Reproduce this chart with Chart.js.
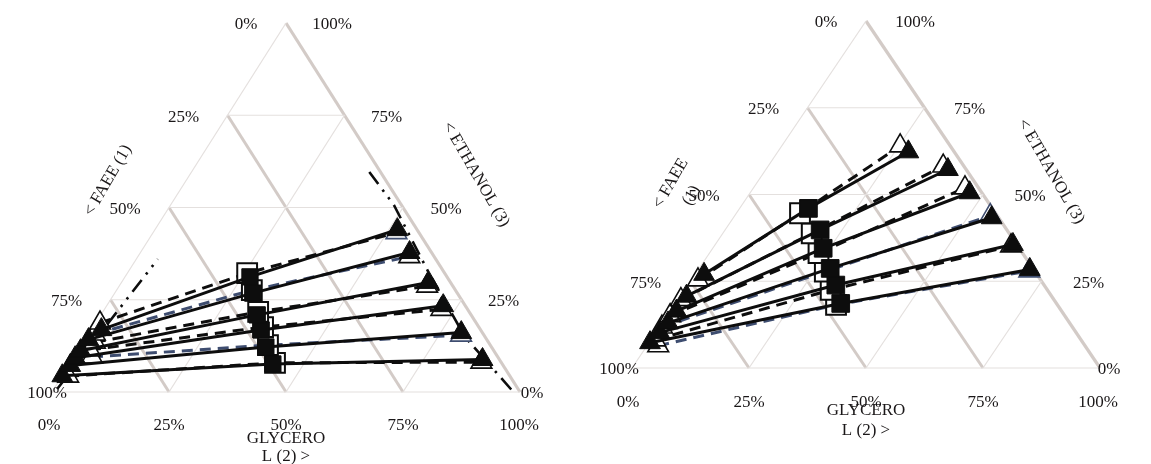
<!DOCTYPE html>
<html>
<head>
<meta charset="utf-8">
<script src="https://cdn.jsdelivr.net/npm/chart.js@4.4.1/dist/chart.umd.min.js"></script>
<style>
html,body{margin:0;padding:0;background:#fff;width:1151px;height:464px;overflow:hidden;}
.wrap{position:absolute;top:0;height:464px;}
#wL{left:0;width:576px;}
#wR{left:576px;width:575px;}
</style>
</head>
<body>
<div class="wrap" id="wL"><canvas id="cL" width="576" height="464"></canvas></div>
<div class="wrap" id="wR"><canvas id="cR" width="575" height="464"></canvas></div>
<script>
// ---------------- DATA (mass %, glycerol & ethanol; FAEE = 100 - G - E) ----------------
const tickPct = [0, 25, 50, 75, 100];
const tickLabels = ['0%', '25%', '50%', '75%', '100%'];
const gridSteps = [25, 50, 75];
const axisFaee = '< FAEE (1)';
const axisGly1 = 'GLYCERO';
const axisGly2 = 'L (2) >';
const axisEth = '< ETHANOL (3)';

// Left diagram
const L_expFaeeRichG = [2.1, 0.7, 0.5, 0.3, 0.3, 0.0];
const L_expFaeeRichE = [16.9, 14.2, 11.2, 9.3, 7.2, 4.4];
const L_feedG = [26.7, 29.5, 33.4, 36.3, 39.6, 43.4];
const L_feedE = [31.2, 26.8, 20.9, 16.8, 12.2, 7.6];
const L_expGlyRichG = [51.8, 57.5, 65.6, 71.9, 79.4, 87.6];
const L_expGlyRichE = [44.0, 37.8, 29.7, 23.4, 16.1, 8.8];
const L_calFaeeRichG = [0.9, 1.3, 2.4, 2.4, 3.8, 1.3];
const L_calFaeeRichE = [18.7, 15.7, 13.5, 11.4, 9.5, 4.3];
const L_calFeedG = [25.6, 28.9, 33.2, 36.3, 39.8, 43.7];
const L_calFeedE = [32.2, 27.6, 21.7, 17.6, 12.7, 7.9];
const L_calGlyRichG = [52.0, 58.0, 65.8, 72.0, 79.7, 87.7];
const L_calGlyRichE = [43.2, 36.7, 28.7, 22.4, 15.4, 8.1];
const L_binodalFaeeG = [0.7, 4.6];
const L_binodalFaeeE = [0.8, 36.0];
const L_binodalGlyG = [38.0, 47.7, 63.9, 80.8, 98.0];
const L_binodalGlyE = [59.6, 50.7, 32.8, 14.9, 0.5];

// Right diagram
const R_expFaeeRichG = [1.9, 1.3, 1.3, 1.2, 0.8, 0.2];
const R_expFaeeRichE = [27.0, 20.7, 16.4, 13.0, 10.2, 7.3];
const R_feedG = [14.7, 20.3, 23.6, 28.0, 31.6, 35.3];
const R_feedE = [46.0, 39.8, 34.5, 28.7, 23.9, 18.6];
const R_expGlyRichG = [27.9, 38.9, 46.9, 55.2, 63.6, 70.8];
const R_expGlyRichE = [62.3, 57.2, 50.5, 43.3, 35.6, 28.4];
const R_calFaeeRichG = [1.4, 0.6, 0.6, 0.5, 0.9, 2.4];
const R_calFaeeRichE = [25.4, 19.7, 15.1, 11.8, 8.1, 6.4];
const R_calFeedG = [13.6, 19.0, 23.3, 27.3, 31.2, 34.5];
const R_calFeedE = [44.6, 38.8, 33.1, 27.8, 22.5, 18.2];
const R_calGlyRichG = [25.3, 37.4, 45.2, 54.6, 63.4, 70.9];
const R_calGlyRichE = [64.0, 58.2, 51.9, 43.9, 35.2, 28.0];

// ---------------- STYLE ----------------
const BLACK = '#0d0d0d';
const BLUE = '#3e4d70';
const THIN = '#e4e0de';
const THICK = '#d3cbc7';
const TEXT = '#1a1718';
const FONT = '17px "Liberation Serif", "Times New Roman", serif';

function pt(g, e) { return { x: (g + e / 2) / 100, y: e / 100 }; }

function gridDatasets() {
  const ds = [];
  const add = (a, b, color, w) => ds.push({
    data: [a, b], showLine: true, pointRadius: 0, borderColor: color, borderWidth: w,
    order: 100, clip: false
  });
  add(pt(0, 0), pt(0, 100), THIN, 1.2);
  add(pt(0, 0), pt(100, 0), THIN, 1.2);
  gridSteps.forEach(t => {
    add(pt(0, t), pt(100 - t, t), THIN, 1.2);
    add(pt(t, 0), pt(t, 100 - t), THIN, 1.2);
  });
  gridSteps.forEach(t => add(pt(0, 100 - t), pt(100 - t, 0), THICK, 3));
  add(pt(100, 0), pt(0, 100), THICK, 3.2);
  return ds;
}

function buildSet(cfg) {
  const ds = [];
  const n = cfg.expLG.length;
  for (let i = 0; i < n; i++) {
    // calculated tie line: FAEE-rich phase -> global composition -> glycerol-rich phase
    ds.push({
      data: [pt(cfg.calLG[i], cfg.calLE[i]), pt(cfg.calFG[i], cfg.calFE[i]), pt(cfg.calRG[i], cfg.calRE[i])],
      showLine: true, borderColor: cfg.calLineColors[i], borderWidth: 3, borderDash: [11, 7],
      pointStyle: ['triangle', 'rect', 'triangle'],
      pointRadius: [cfg.triR, cfg.openSqR, cfg.triR],
      pointBackgroundColor: '#ffffff',
      pointBorderColor: [BLACK, BLACK, cfg.calTriColors[i]],
      pointBorderWidth: [1.6, 2, 1.6],
      order: 6, clip: false
    });
  }
  for (let i = 0; i < n; i++) {
    ds.push({
      data: [pt(cfg.expLG[i], cfg.expLE[i]), pt(cfg.feedG[i], cfg.feedE[i]), pt(cfg.expRG[i], cfg.expRE[i])],
      showLine: true, borderColor: BLACK, borderWidth: 3,
      pointStyle: ['triangle', 'rect', 'triangle'],
      pointRadius: [cfg.triR, cfg.sqR, cfg.triR],
      pointBackgroundColor: BLACK, pointBorderColor: BLACK, pointBorderWidth: 1,
      order: 1, clip: false
    });
  }
  return ds;
}

function labelItems(o) {
  const items = [];
  tickPct.forEach((v, i) => {
    items.push({ text: tickLabels[i], g: 0, e: 100 - v, dx: o.faeeDx[i], dy: o.faeeDy });
    items.push({ text: tickLabels[4 - i], g: v, e: 100 - v, dx: o.ethDx[i], dy: o.ethDy });
    items.push({ text: tickLabels[i], g: v, e: 0, dx: o.glyDx[i], dy: o.glyDy });
  });
  items.push({ text: axisGly1, g: 50, e: 0, dx: 0, dy: o.gly1Dy });
  items.push({ text: axisGly2, g: 50, e: 0, dx: 0, dy: o.gly2Dy });
  items.push({ lines: o.faeeTitle, g: 0, e: 50, dx: o.faeeTitleDx, dy: o.faeeTitleDy, rot: -60 });
  items.push({ lines: [axisEth], g: 50, e: 50, dx: o.ethTitleDx, dy: o.ethTitleDy, rot: 60 });
  return items;
}

function labelPlugin(items) {
  return {
    id: 'ternLabels',
    afterDraw(chart) {
      const { ctx, scales: { x, y } } = chart;
      ctx.save();
      ctx.fillStyle = TEXT;
      ctx.font = FONT;
      ctx.textAlign = 'center';
      ctx.textBaseline = 'middle';
      items.forEach(L => {
        const p = pt(L.g, L.e);
        const px = x.getPixelForValue(p.x) + L.dx;
        const py = y.getPixelForValue(p.y) + L.dy;
        ctx.save();
        ctx.translate(px, py);
        ctx.rotate((L.rot || 0) * Math.PI / 180);
        const lines = L.lines || [L.text];
        lines.forEach((s, k) => ctx.fillText(s, 0, (k - (lines.length - 1) / 2) * 24));
        ctx.restore();
      });
      ctx.restore();
    }
  };
}

function binodal(gs, es) {
  return {
    data: gs.map((g, i) => pt(g, es[i])), showLine: true, pointRadius: 0,
    borderColor: BLACK, borderWidth: 2.6, borderDash: [15, 7, 2.5, 7, 2.5, 7],
    order: 8, clip: false
  };
}

function makeChart(id, datasets, padding, items) {
  return new Chart(document.getElementById(id), {
    type: 'scatter',
    data: { datasets },
    options: {
      responsive: false, animation: false, events: [],
      layout: { padding },
      plugins: { legend: { display: false }, tooltip: { enabled: false } },
      scales: {
        x: { type: 'linear', min: 0, max: 1, display: false },
        y: { type: 'linear', min: 0, max: 1, display: false }
      }
    },
    plugins: [labelPlugin(items)]
  });
}

// Left chart
const leftDs = gridDatasets().concat(
  [binodal(L_binodalFaeeG, L_binodalFaeeE), binodal(L_binodalGlyG, L_binodalGlyE)],
  buildSet({
    expLG: L_expFaeeRichG, expLE: L_expFaeeRichE, feedG: L_feedG, feedE: L_feedE,
    expRG: L_expGlyRichG, expRE: L_expGlyRichE,
    calLG: L_calFaeeRichG, calLE: L_calFaeeRichE, calFG: L_calFeedG, calFE: L_calFeedE,
    calRG: L_calGlyRichG, calRE: L_calGlyRichE,
    calLineColors: [BLACK, BLUE, BLACK, BLACK, BLUE, BLACK],
    calTriColors: [BLUE, BLACK, BLACK, BLACK, BLUE, BLACK],
    triR: 12, sqR: 11.5, openSqR: 14
  })
);
makeChart('cL', leftDs, { left: 52, right: 56, top: 23, bottom: 72 }, labelItems({
  faeeDx: [-40, -44, -44, -44, -5], faeeDy: 2,
  ethDx: [46, 42, 43, 42, 12], ethDy: 2,
  glyDx: [-3, 0, 0, 0, -1], glyDy: 34,
  gly1Dy: 47, gly2Dy: 65,
  faeeTitle: [axisFaee], faeeTitleDx: -61, faeeTitleDy: -27,
  ethTitleDx: 73, ethTitleDy: -33
}));

// Right chart
const rightDs = gridDatasets().concat(
  buildSet({
    expLG: R_expFaeeRichG, expLE: R_expFaeeRichE, feedG: R_feedG, feedE: R_feedE,
    expRG: R_expGlyRichG, expRE: R_expGlyRichE,
    calLG: R_calFaeeRichG, calLE: R_calFaeeRichE, calFG: R_calFeedG, calFE: R_calFeedE,
    calRG: R_calGlyRichG, calRE: R_calGlyRichE,
    calLineColors: [BLACK, BLACK, BLACK, BLUE, BLACK, BLUE],
    calTriColors: [BLACK, BLACK, BLACK, BLUE, BLACK, BLUE],
    triR: 12, sqR: 12.5, openSqR: 14
  })
);
makeChart('cR', rightDs, { left: 56, right: 51, top: 21, bottom: 96 }, labelItems({
  faeeDx: [-40, -44, -45, -45, -13], faeeDy: 2,
  ethDx: [49, 45, 47, 47, 9], ethDy: 2,
  glyDx: [-4, 0, 0, 0, -2], glyDy: 35,
  gly1Dy: 43, gly2Dy: 63,
  faeeTitle: ['< FAEE', '(1)'], faeeTitleDx: -68, faeeTitleDy: -5,
  ethTitleDx: 68, ethTitleDy: -23
}));
</script>
</body>
</html>
